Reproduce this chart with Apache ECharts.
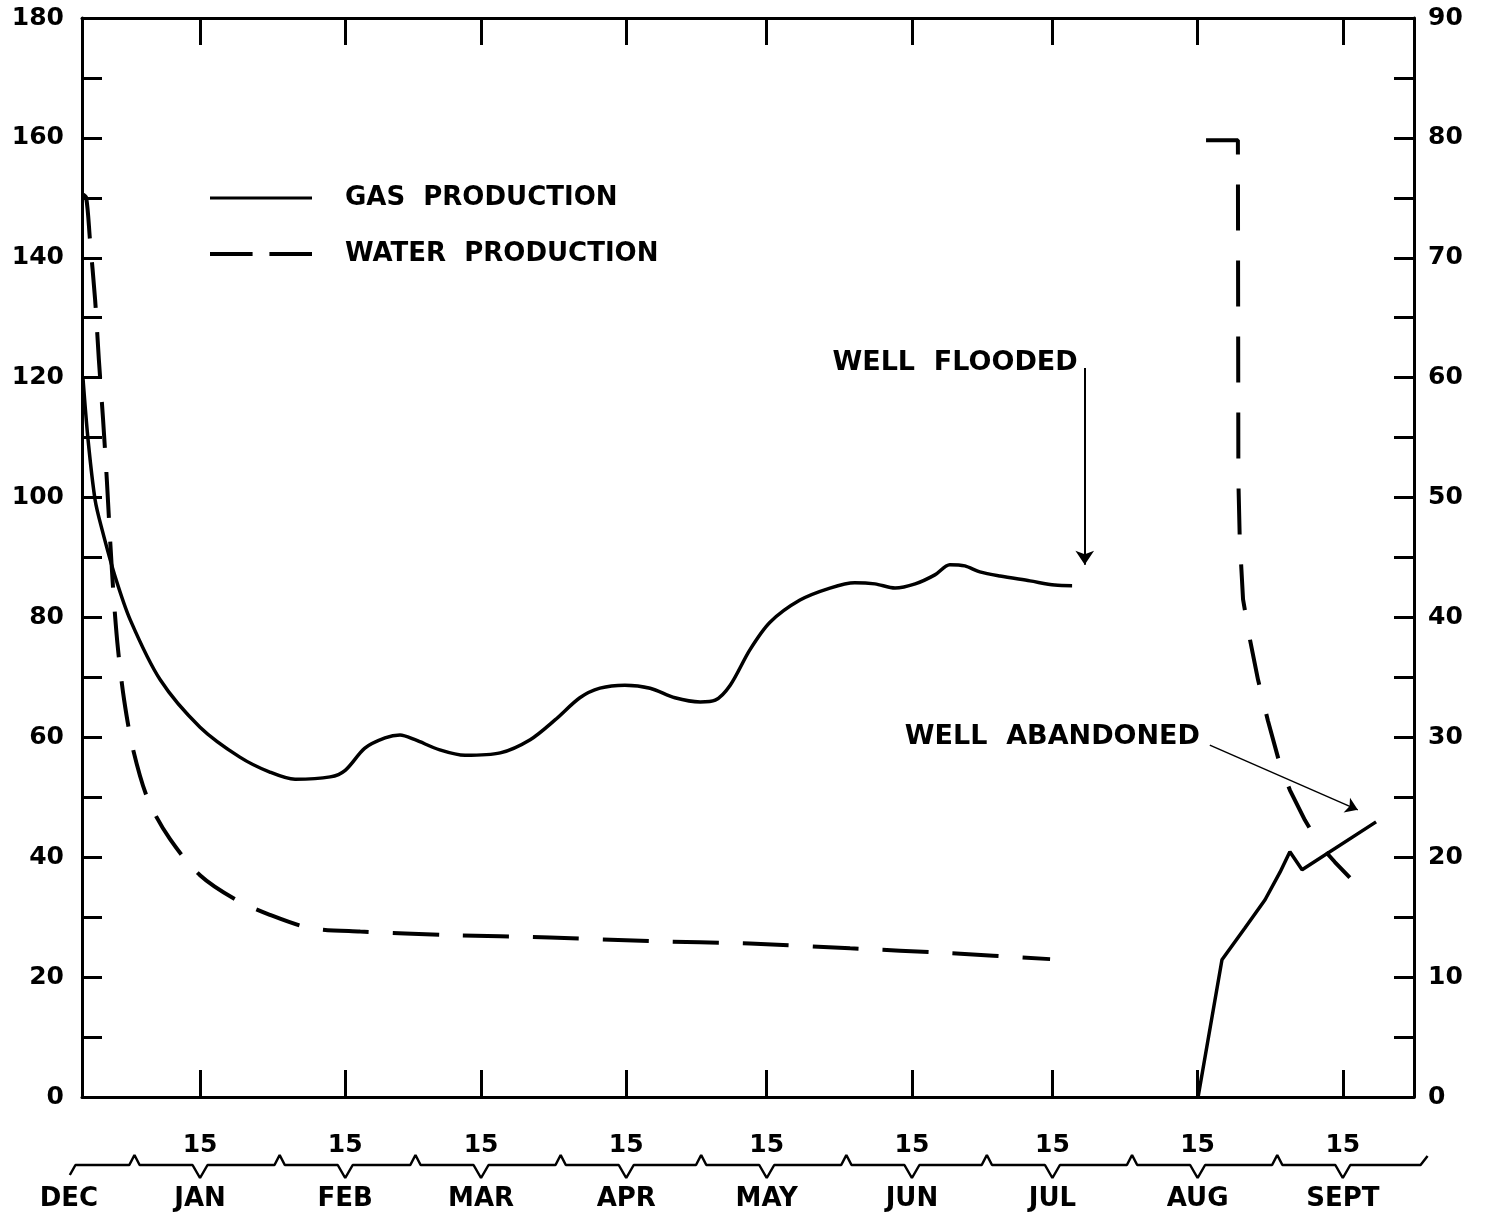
<!DOCTYPE html>
<html>
<head>
<meta charset="utf-8">
<script src="https://cdn.jsdelivr.net/npm/echarts@6/dist/echarts.min.js"></script>
<style>
html,body{margin:0;padding:0;background:#fff;}
#chart{width:1487px;height:1218px;}
</style>
</head>
<body>
<div id="chart"></div>
<script>
// Days counted from Jan 1 (Jan 1 = 0), leap year
const fifteenDays = [14, 45, 74, 105, 135, 166, 196, 227, 258];
const monthStartDays = [0, 31, 60, 91, 121, 152, 182, 213, 244];
const monthNames = ['DEC', 'JAN', 'FEB', 'MAR', 'APR', 'MAY', 'JUN', 'JUL', 'AUG', 'SEPT'];
const monthLabelDays = [-14, 14, 45, 74, 105, 135, 166, 196, 227, 258];
const leftTicks = [0, 20, 40, 60, 80, 100, 120, 140, 160, 180];
const rightTicks = [0, 10, 20, 30, 40, 50, 60, 70, 80, 90];

// Gas production (left axis)
const gasDays1 = [-11.0, -9.9, -8.4, -6.9, -4.2, -0.9, 5.5, 14.0, 22.5, 28.9, 34.3, 41.8, 45.0, 49.2, 53.5, 56.7, 59.9, 65.2, 70.6, 78.1, 84.5, 89.8, 95.1, 99.4, 104.7, 110.1, 115.4, 120.8, 124.0, 127.2, 131.4, 135.7, 142.1, 148.5, 153.8, 158.1, 162.4, 166.7, 170.9, 174.1, 177.3, 180.5, 184.8, 191.2, 196.5, 200.2];
const gasVals1 = [120, 109.6, 99.6, 94.6, 87.0, 79.6, 69.6, 61.7, 56.7, 54.2, 53.0, 53.4, 54.5, 58.2, 59.9, 60.4, 59.6, 57.9, 57.0, 57.4, 59.6, 62.9, 66.6, 68.2, 68.7, 68.2, 66.6, 65.9, 66.2, 68.7, 74.6, 79.2, 82.9, 84.9, 85.8, 85.6, 84.9, 85.6, 87.1, 88.8, 88.6, 87.6, 86.9, 86.1, 85.4, 85.3];
const gasDays2 = [227.1, 232.2, 237.1, 241.4, 244.6, 246.7, 249.3, 265.1];
const gasVals2 = [0, 22.9, 28.2, 32.9, 37.5, 40.9, 37.9, 45.9];

// Water production (right axis)
const waterDays1 = [-11.1, -10.3, -9.5, -8.4, -7.6, -6.7, -5.9, -5.2, -4.4, -3.5, -2.2, -0.3, 2.9, 7.6, 14.0, 21.5, 28.9, 37.5, 48.2, 67.4, 88.7, 110.1, 131.4, 152.8, 174.1, 195.5];
const waterVals1 = [75.3, 75.0, 71.5, 66.5, 61.5, 56.5, 51.5, 46.5, 41.5, 37.3, 33.1, 29.0, 24.8, 21.5, 18.5, 16.5, 15.2, 14.1, 13.8, 13.5, 13.3, 13.0, 12.8, 12.4, 12.0, 11.5];
const waterDays2 = [228.8, 235.6, 235.7, 236.0, 236.7, 238.2, 239.9, 242.0, 244.6, 246.7, 249.9, 253.1, 256.3, 259.5];
const waterVals2 = [79.8, 79.8, 51.5, 46.5, 41.5, 38.1, 34.8, 31.4, 27.7, 25.6, 23.1, 21.0, 19.6, 18.3];

// Annotations
const floodedText = {day: 201.4, val: 122.5, text: 'WELL  FLOODED'};
const floodedArrow = [[202.9, 121.6], [202.9, 88.8]];
const abandonedText = {day: 227.5, val: 60.1, text: 'WELL  ABANDONED'};
const abandonedArrow = [[229.6, 58.7], [261.2, 47.9]];

const zip = (a, b) => a.map((d, i) => [d, b[i]]);

// decorative date-scale wave built from the month boundaries and 15ths
function buildWave() {
  const ev = [];
  monthStartDays.forEach(d => ev.push({d, up: true}));
  fifteenDays.forEach(d => ev.push({d, up: false}));
  ev.sort((a, b) => a.d - b.d);
  const pts = [[-13.8, -10], [-12.6, 0]];
  ev.forEach(e => {
    if (e.up) { pts.push([e.d - 1.1, 0], [e.d, 10], [e.d + 1.1, 0]); }
    else { pts.push([e.d - 1.6, 0], [e.d, -13], [e.d + 1.6, 0]); }
  });
  pts.push([274.6, 0], [276.1, 9]);
  return pts;
}

const FONT = 'DejaVu Sans';
const txt = {fontFamily: FONT, fontWeight: 'bold', fontSize: 25, color: '#000'};
const black = '#000';
const axisLineStyle = {show: true, onZero: false, lineStyle: {color: black, width: 3}};

const chart = echarts.init(document.getElementById('chart'), null, {renderer: 'canvas'});
const option = {
  backgroundColor: '#fff',
  animation: false,
  grid: [
    {left: 82, right: 73, top: 18, bottom: 121},
    {left: 68, right: 59, top: 1120, height: 90}
  ],
  legend: {
    left: 205, top: 178, orient: 'vertical', itemWidth: 102, itemHeight: 4, itemGap: 26,
    data: [
      {name: 'GAS PRODUCTION', icon: 'path://M0,0H100V3H0Z'},
      {name: 'WATER PRODUCTION', icon: 'path://M0,0H43V4H0Z M60,0H103V4H60Z'}
    ],
    itemStyle: {color: black, borderWidth: 0},
    formatter: n => n.replace(' ', '  '),
    textStyle: Object.assign({}, txt, {fontSize: 26, lineHeight: 30, padding: [0, 0, 0, 28]}),
    selectedMode: false
  },
  xAxis: [
    {type: 'value', gridIndex: 0, min: -11.2, max: 273.2, position: 'bottom',
      axisLine: axisLineStyle,
      axisTick: {inside: true, length: 27, customValues: fifteenDays, lineStyle: {color: black, width: 3}},
      axisLabel: {show: false}, splitLine: {show: false}},
    {type: 'value', gridIndex: 0, min: -11.2, max: 273.2, position: 'top',
      axisLine: axisLineStyle,
      axisTick: {inside: true, length: 27, customValues: fifteenDays, lineStyle: {color: black, width: 3}},
      axisLabel: {show: false}, splitLine: {show: false}},
    {type: 'value', gridIndex: 1, min: -14.19, max: 276.19, position: 'top',
      axisLine: {show: false}, axisTick: {show: false}, splitLine: {show: false},
      axisLabel: Object.assign({}, txt, {inside: true, margin: 13, customValues: fifteenDays, formatter: () => '15'})},
    {type: 'value', gridIndex: 1, min: -14.19, max: 276.19, position: 'bottom',
      axisLine: {show: false}, axisTick: {show: false}, splitLine: {show: false},
      axisLabel: Object.assign({}, txt, {fontSize: 26, inside: true, margin: -2, customValues: monthLabelDays,
        formatter: v => monthNames[monthLabelDays.indexOf(v)]})}
  ],
  yAxis: [
    {type: 'value', gridIndex: 0, min: 0, max: 180, interval: 10, position: 'left',
      axisLine: axisLineStyle,
      axisTick: {show: true, inside: true, length: 20, lineStyle: {color: black, width: 3}},
      axisLabel: Object.assign({}, txt, {margin: 18, formatter: v => leftTicks.includes(v) ? String(v) : ''}),
      splitLine: {show: false}},
    {type: 'value', gridIndex: 0, min: 0, max: 90, interval: 5, position: 'right',
      axisLine: axisLineStyle,
      axisTick: {show: true, inside: true, length: 20, lineStyle: {color: black, width: 3}},
      axisLabel: Object.assign({}, txt, {margin: 14, formatter: v => rightTicks.includes(v) ? String(v) : ''}),
      splitLine: {show: false}},
    {type: 'value', gridIndex: 1, min: -45, max: 45, show: false}
  ],
  series: [
    {name: 'GAS PRODUCTION', type: 'line', xAxisIndex: 0, yAxisIndex: 0, data: zip(gasDays1, gasVals1),
      smooth: 0.3, symbol: 'none', lineStyle: {color: black, width: 3.5}, itemStyle: {color: black},
      markLine: {silent: true, symbol: ['none', 'arrow'], symbolSize: 14, label: {show: false},
        lineStyle: {color: black, width: 2, type: 'solid'},
        data: [
          [{coord: floodedArrow[0]}, {coord: floodedArrow[1]}],
          [{coord: abandonedArrow[0], lineStyle: {width: 1.5}}, {coord: abandonedArrow[1], symbolSize: 12}]
        ]},
      markPoint: {silent: true, symbol: 'circle', symbolSize: 0,
        label: Object.assign({}, txt, {fontSize: 27, position: 'left', distance: 0}),
        data: [
          {coord: [floodedText.day, floodedText.val], label: {formatter: floodedText.text}},
          {coord: [abandonedText.day, abandonedText.val], label: {formatter: abandonedText.text}}
        ]}
    },
    {name: 'GAS PRODUCTION', type: 'line', xAxisIndex: 0, yAxisIndex: 0, data: zip(gasDays2, gasVals2),
      symbol: 'none', lineStyle: {color: black, width: 3.5}, itemStyle: {color: black}},
    {name: 'WATER PRODUCTION', type: 'line', xAxisIndex: 0, yAxisIndex: 1, data: zip(waterDays1, waterVals1),
      smooth: 0.3, symbol: 'none', lineStyle: {color: black, width: 4, type: [46, 24]}, itemStyle: {color: black}},
    {name: 'WATER PRODUCTION', type: 'line', xAxisIndex: 0, yAxisIndex: 1, data: zip(waterDays2, waterVals2),
      symbol: 'none', lineStyle: {color: black, width: 4, type: [46, 30]}, itemStyle: {color: black}},
    {name: 'dateScale', type: 'line', xAxisIndex: 2, yAxisIndex: 2, data: buildWave(), silent: true,
      symbol: 'none', clip: false, lineStyle: {color: black, width: 2.5}}
  ]
};
chart.setOption(option);
</script>
</body>
</html>
